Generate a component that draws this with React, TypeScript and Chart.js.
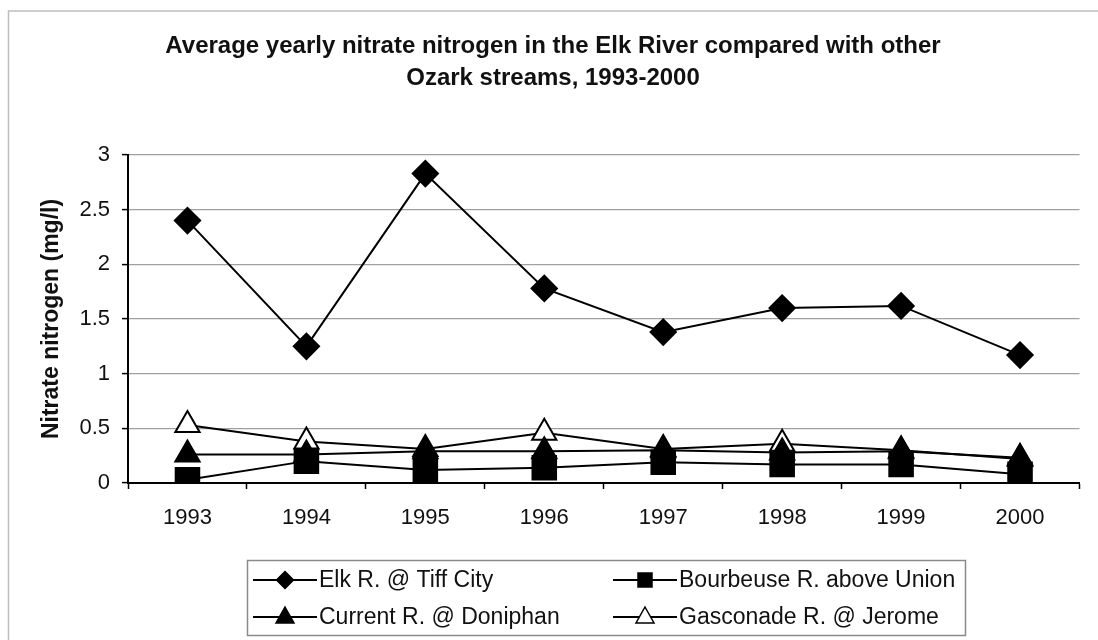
import React, { useEffect, useRef } from "react";
import { Chart, registerables } from "chart.js";

Chart.register(...registerables);

const years = ["1993", "1994", "1995", "1996", "1997", "1998", "1999", "2000"];
const elkTiffCity = [2.4, 1.25, 2.83, 1.78, 1.38, 1.6, 1.62, 1.17];
const bourbeuseUnion = [0.03, 0.2, 0.12, 0.14, 0.19, 0.17, 0.17, 0.08];
const currentDoniphan = [0.26, 0.26, 0.29, 0.29, 0.3, 0.28, 0.29, 0.23];
const gasconadeJerome = [0.53, 0.38, 0.31, 0.46, 0.31, 0.36, 0.3, 0.22];
const seriesNames = [
  "Elk R. @ Tiff City",
  "Bourbeuse R. above Union",
  "Current R. @ Doniphan",
  "Gasconade R. @ Jerome",
];
const titleLines = [
  "Average yearly nitrate nitrogen in the Elk River compared with other",
  "Ozark streams, 1993-2000",
];
const yTitle = "Nitrate nitrogen (mg/l)";

const FONT = "'Liberation Sans', Arial, sans-serif";

function drawMarker(ctx: CanvasRenderingContext2D, style: string, x: number, y: number, r: number, fill: string) {
  ctx.save();
  ctx.beginPath();
  if (style === "rectRot") {
    ctx.moveTo(x, y - r);
    ctx.lineTo(x + r, y);
    ctx.lineTo(x, y + r);
    ctx.lineTo(x - r, y);
    ctx.closePath();
  } else if (style === "rect") {
    ctx.rect(x - r, y - r, 2 * r, 2 * r);
  } else {
    ctx.moveTo(x, y - r);
    ctx.lineTo(x + r * 0.9, y + r * 0.6);
    ctx.lineTo(x - r * 0.9, y + r * 0.6);
    ctx.closePath();
  }
  ctx.fillStyle = fill;
  ctx.fill();
  ctx.lineWidth = 1.5;
  ctx.strokeStyle = "#000";
  ctx.stroke();
  ctx.restore();
}

const decorPlugin = {
  id: "decor",
  beforeDraw(chart: any) {
    const ctx = chart.ctx as CanvasRenderingContext2D;
    ctx.save();
    ctx.fillStyle = "#fff";
    ctx.fillRect(0, 0, chart.width, chart.height);
    ctx.strokeStyle = "#bdbdbd";
    ctx.lineWidth = 1.5;
    ctx.strokeRect(8.5, 11, 1200, 700);
    ctx.restore();
  },
  afterDraw(chart: any) {
    const ctx = chart.ctx as CanvasRenderingContext2D;
    ctx.save();
    // title
    ctx.fillStyle = "#111";
    ctx.font = `bold 24px ${FONT}`;
    ctx.textAlign = "center";
    ctx.textBaseline = "alphabetic";
    ctx.fillText(titleLines[0], 553, 53);
    ctx.fillText(titleLines[1], 553, 85);

    // legend box
    ctx.strokeStyle = "#8a8a8a";
    ctx.lineWidth = 1.5;
    ctx.strokeRect(247.5, 560.5, 718, 75);
    const items = [
      { name: seriesNames[0], style: "rectRot", r: 8.5, fill: "#000", x: 253, y: 580 },
      { name: seriesNames[1], style: "rect", r: 7, fill: "#000", x: 613, y: 580 },
      { name: seriesNames[2], style: "triangle", r: 10, fill: "#000", x: 253, y: 617 },
      { name: seriesNames[3], style: "triangle", r: 10, fill: "#fff", x: 613, y: 617 },
    ];
    ctx.font = `23px ${FONT}`;
    ctx.textAlign = "left";
    ctx.textBaseline = "middle";
    for (const it of items) {
      ctx.beginPath();
      ctx.moveTo(it.x, it.y);
      ctx.lineTo(it.x + 64, it.y);
      ctx.lineWidth = 2;
      ctx.strokeStyle = "#000";
      ctx.stroke();
      drawMarker(ctx, it.style, it.x + 32, it.y, it.r, it.fill);
      ctx.fillStyle = "#111";
      ctx.fillText(it.name, it.x + 66, it.y + 1);
    }
    ctx.restore();
  },
};

export default function App() {
  const ref = useRef<HTMLCanvasElement | null>(null);
  useEffect(() => {
    if (!ref.current) return;
    const common = {
      borderColor: "#000",
      borderWidth: 2,
      pointBorderColor: "#000",
      pointBorderWidth: 1.5,
      tension: 0,
    };
    const chart = new Chart(ref.current, {
      type: "line",
      data: {
        labels: years,
        datasets: [
          { ...common, label: seriesNames[0], data: elkTiffCity, pointStyle: "rectRot", pointRadius: 13, pointBackgroundColor: "#000", order: 3 },
          { ...common, label: seriesNames[1], data: bourbeuseUnion, pointStyle: "rect", pointRadius: 17, pointBackgroundColor: "#000", order: 2 },
          { ...common, label: seriesNames[2], data: currentDoniphan, pointStyle: "triangle", pointRadius: 14.5, pointBackgroundColor: "#000", order: 0 },
          { ...common, label: seriesNames[3], data: gasconadeJerome, pointStyle: "triangle", pointRadius: 14, pointBackgroundColor: "#fff", pointBorderWidth: 2, order: 1 },
        ],
      },
      options: {
        responsive: false,
        animation: false,
        devicePixelRatio: 1,
        layout: { padding: { left: 0, top: 155, right: 11, bottom: 0 } },
        plugins: {
          legend: { display: false },
          title: { display: false },
          tooltip: { enabled: false },
        },
        scales: {
          x: {
            type: "category",
            offset: true,
            afterFit: (s: any) => {
              s.height = 157;
            },
            grid: {
              offset: true,
              drawOnChartArea: false,
              drawTicks: true,
              tickLength: 6,
              tickColor: "#000",
              tickWidth: 1.5,
            },
            border: { color: "#000", width: 2 },
            ticks: {
              color: "#111",
              font: { family: FONT, size: 22 },
              padding: 16,
              maxRotation: 0,
            },
          },
          y: {
            min: 0,
            max: 3,
            afterFit: (s: any) => {
              s.width = 128;
            },
            ticks: {
              stepSize: 0.5,
              color: "#111",
              font: { family: FONT, size: 22 },
              padding: 12,
              callback: (v: any) => `${+v}`,
            },
            grid: {
              color: "#a0a0a0",
              lineWidth: 1.2,
              tickColor: "#000",
              tickLength: 6,
              tickWidth: 1.5,
            },
            border: { color: "#000", width: 2 },
            title: {
              display: true,
              text: yTitle,
              color: "#111",
              font: { family: FONT, size: 23, weight: "bold" },
              padding: { top: 38, bottom: 0 },
            },
          },
        },
      },
      plugins: [decorPlugin],
    } as any);
    return () => chart.destroy();
  }, []);
  return (
    <div style={{ position: "absolute", left: 0, top: 0, width: 1098, height: 640 }}>
      <canvas ref={ref} width={1098} height={640} style={{ width: 1098, height: 640, display: "block" }} />
    </div>
  );
}
